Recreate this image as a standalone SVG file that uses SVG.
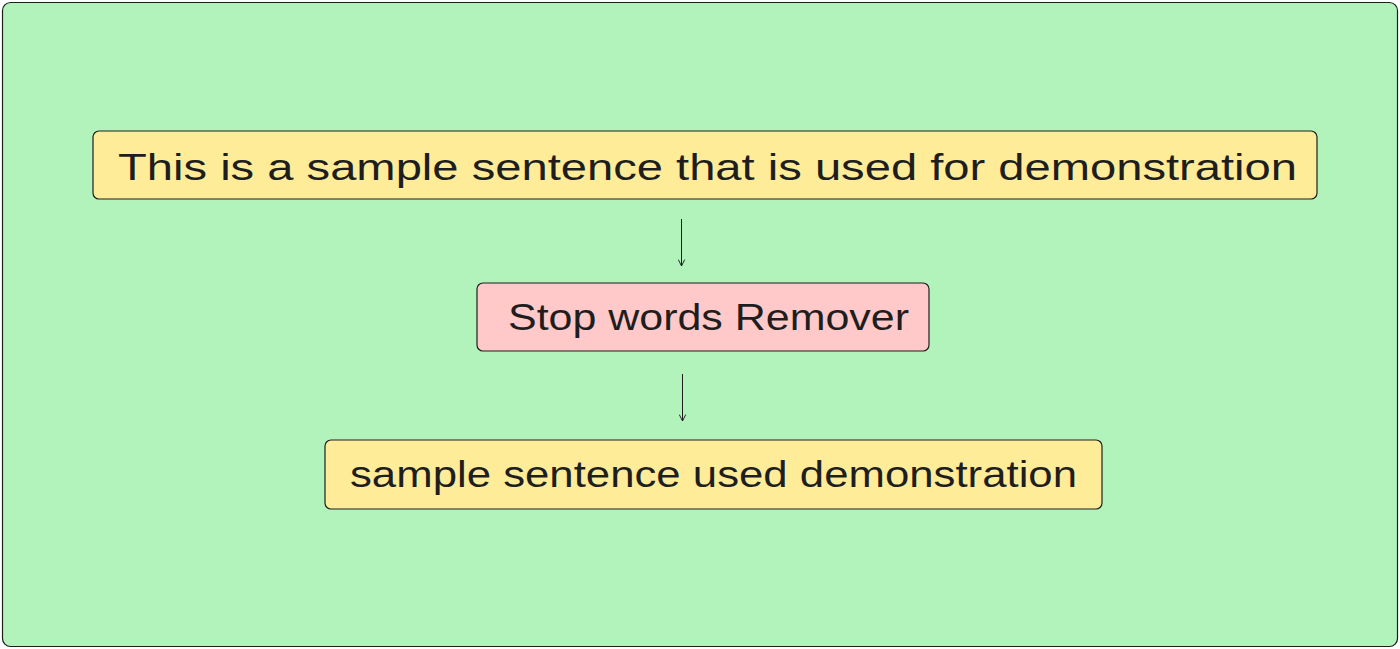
<svg xmlns="http://www.w3.org/2000/svg" width="1400" height="649" viewBox="0 0 1400 649">
<defs>
<style>
.box{stroke:#1e1e1e;stroke-width:1.2}
.y{fill:#ffec99}
.p{fill:#ffc9c9}
.t{font-family:"Liberation Sans",Arial,sans-serif;font-size:36px;fill:#1e1e1e}
.c{stroke:#1e1e1e;stroke-width:1;fill:none}
</style>
<marker id="ah" viewBox="0 0 10 10" refX="9" refY="5" markerWidth="8" markerHeight="8" orient="auto" markerUnits="userSpaceOnUse">
<path d="M1,1 L9,5 L1,9" fill="none" stroke="#1e1e1e" stroke-width="1.2"/>
</marker>
</defs>
<rect x="2.5" y="2.5" width="1395" height="644" rx="8" fill="#b2f2bb" stroke="#1e1e1e" stroke-width="1.2"/>
<g id="node-input">
<rect class="box y" x="93" y="131" width="1224" height="68" rx="6"/>
<text class="t" x="118" y="180" textLength="1179" lengthAdjust="spacingAndGlyphs">This is a sample sentence that is used for demonstration</text>
</g>
<g id="node-remover">
<rect class="box p" x="477" y="283" width="452" height="68" rx="6"/>
<text class="t" x="508" y="330" textLength="401" lengthAdjust="spacingAndGlyphs">Stop words Remover</text>
</g>
<g id="node-output">
<rect class="box y" x="325" y="440" width="777" height="69" rx="6"/>
<text class="t" x="350" y="487" textLength="727" lengthAdjust="spacingAndGlyphs">sample sentence used demonstration</text>
</g>
<g id="connectors">
<line class="c" x1="681.5" y1="219" x2="681.5" y2="266" marker-end="url(#ah)"/>
<line class="c" x1="682.5" y1="374" x2="682.5" y2="421" marker-end="url(#ah)"/>
</g>
</svg>
